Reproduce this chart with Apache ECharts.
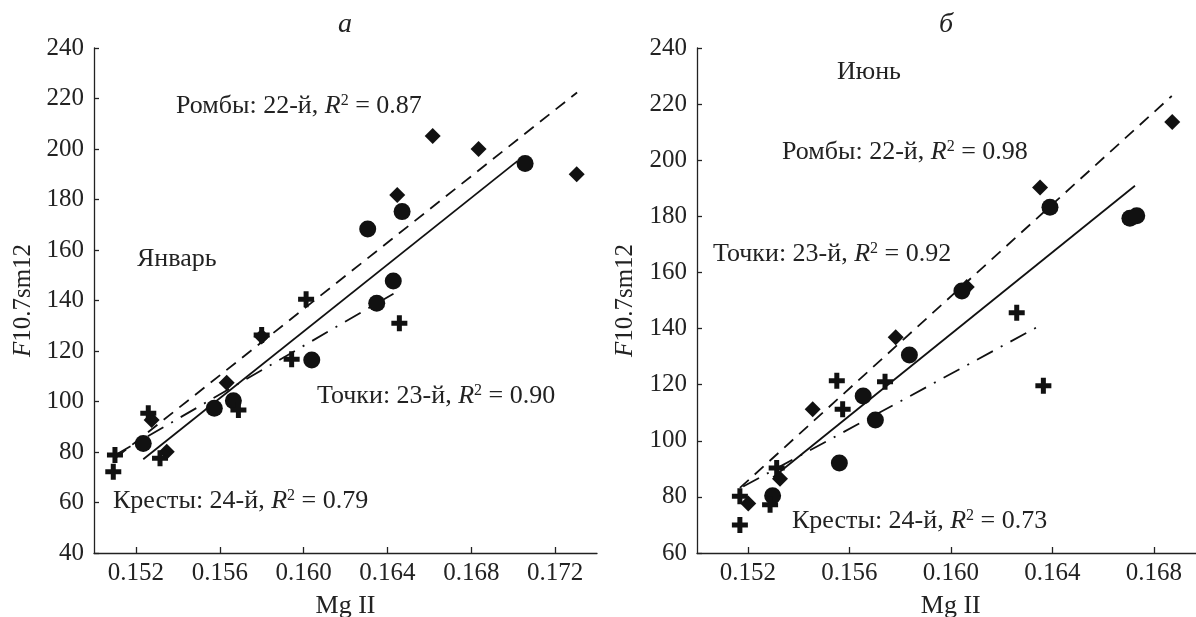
<!DOCTYPE html>
<html>
<head>
<meta charset="utf-8">
<script src="https://cdn.jsdelivr.net/npm/echarts@6/dist/echarts.min.js"></script>
<style>
html,body{margin:0;padding:0;background:#fff;}
#c{width:1196px;height:617px;}
</style>
</head>
<body>
<div id="c"></div>
<script>
// ---- Data ----
// Panel а: January
const janRombs = [[0.16616,205.1],[0.16835,200.0],[0.17303,190.0],[0.16447,181.8],[0.15633,107.4],[0.15800,125.7],[0.15275,92.7],[0.15347,80.1]];
const janPoints = [[0.17057,194.3],[0.16470,175.2],[0.16306,168.3],[0.16428,147.7],[0.16349,138.9],[0.16039,116.4],[0.15665,100.3],[0.15574,97.3],[0.15235,83.4]];
const janCrosses = [[0.16012,140.5],[0.16457,131.0],[0.15800,126.3],[0.15943,116.7],[0.15689,96.6],[0.15259,95.3],[0.15315,77.5],[0.15100,78.8],[0.15092,72.2]];
const janRombFit = [[0.15108,78.0],[0.17305,222.4]];
const janPointFit = [[0.15235,77.1],[0.17020,195.2]];
const janCrossFit = [[0.15100,78.7],[0.16452,143.8]];
// Panel б: June
const junRombs = [[0.16873,213.6],[0.16352,190.3],[0.16063,154.8],[0.15783,136.9],[0.15456,111.2],[0.15327,86.5],[0.15202,77.6]];
const junPoints = [[0.16391,183.2],[0.16706,179.3],[0.16733,180.2],[0.16044,153.4],[0.15837,130.6],[0.15655,116.0],[0.15703,107.4],[0.15561,92.1],[0.15298,80.4]];
const junCrosses = [[0.16260,145.6],[0.16365,119.6],[0.15551,121.4],[0.15741,121.0],[0.15574,111.2],[0.15314,90.3],[0.15169,80.2],[0.15288,77.2],[0.15169,70.0]];
const junRombFit = [[0.15169,83.2],[0.16871,222.9]];
const junPointFit = [[0.15300,87.0],[0.16726,190.9]];
const junCrossFit = [[0.15182,83.7],[0.16340,140.5]];
// Tick labels
const janXTicks = [0.152,0.156,0.160,0.164,0.168,0.172];
const junXTicks = [0.152,0.156,0.160,0.164,0.168];
// Texts
const panelTitles = ['а','б'];
const monthNames = ['Январь','Июнь'];
const janLabels = {romb:['Ромбы: 22-й, ','0.87'], point:['Точки: 23-й, ','0.90'], cross:['Кресты: 24-й, ','0.79']};
const junLabels = {romb:['Ромбы: 22-й, ','0.98'], point:['Точки: 23-й, ','0.92'], cross:['Кресты: 24-й, ','0.73']};

// ---- Chart ----
const FONT = '"Liberation Serif", "DejaVu Serif", serif';
const INK = '#111';
const TXT = '#222';
const CROSS = 'path://M5.5,0H10.5V5.5H16V10.5H10.5V16H5.5V10.5H0V5.5H5.5Z';
const chart = echarts.init(document.getElementById('c'), null, {renderer:'canvas'});

function xAxis(gi, min, max, ticks){
  return {
    type:'value', gridIndex:gi, min:min, max:max,
    name:'Mg II', nameLocation:'middle', nameGap:40,
    nameTextStyle:{fontFamily:FONT, fontSize:26, color:TXT},
    axisLine:{show:true, onZero:false, lineStyle:{color:TXT, width:1.3}},
    axisTick:{show:true, inside:true, length:6, customValues:ticks, lineStyle:{color:TXT, width:1.3}},
    axisLabel:{customValues:ticks, fontFamily:FONT, fontSize:25, color:TXT, margin:8,
      formatter:v=>v.toFixed(3)},
    splitLine:{show:false}
  };
}
function yAxis(gi, min, nameGap){
  return {
    type:'value', gridIndex:gi, min:min, max:240, interval:20,
    name:'{i|F}10.7sm12', nameLocation:'middle', nameGap:nameGap, nameRotate:90,
    nameTextStyle:{fontFamily:FONT, fontSize:25, color:TXT,
      rich:{i:{fontFamily:FONT, fontSize:25, fontStyle:'italic', color:TXT}}},
    axisLine:{show:true, onZero:false, lineStyle:{color:TXT, width:1.3}},
    axisTick:{show:true, inside:true, length:5, lineStyle:{color:TXT, width:1.3}},
    axisLabel:{fontFamily:FONT, fontSize:25, color:TXT, margin:10},
    splitLine:{show:false}
  };
}
function scat(gi, data, sym, size){
  return {type:'scatter', xAxisIndex:gi, yAxisIndex:gi, data:data, symbol:sym, symbolSize:size,
    itemStyle:{color:INK, opacity:1}, z:3, emphasis:{disabled:true}};
}
function fit(gi, data, type){
  return {type:'line', xAxisIndex:gi, yAxisIndex:gi, data:data, symbol:'none', z:2,
    lineStyle:{color:INK, width:1.8, type:type}, emphasis:{disabled:true}};
}
const richStyle = {
  t:{fontFamily:FONT, fontSize:26, color:TXT},
  i:{fontFamily:FONT, fontSize:26, fontStyle:'italic', color:TXT},
  s:{fontFamily:FONT, fontSize:16, color:TXT, verticalAlign:'top', padding:[0,0,11,0]}
};
function label(x, y, parts){
  return {type:'text', left:x, top:y, silent:true,
    style:{text:'{t|'+parts[0]+'}{i|R}{s|2}{t| = '+parts[1]+'}', rich:richStyle, fill:TXT}};
}
function plain(x, y, txt, italic, size){
  return {type:'text', left:x, top:y, silent:true,
    style:{text:txt, fontFamily:FONT, fontSize:size||26, fontStyle:italic?'italic':'normal', fill:TXT}};
}

chart.setOption({
  animation:false,
  backgroundColor:'#fff',
  grid:[
    {left:94, top:48, width:503, height:505, outerBoundsMode:'none', containLabel:false},
    {left:697, top:48, width:507.5, height:505, outerBoundsMode:'none', containLabel:false}
  ],
  xAxis:[xAxis(0,0.150,0.174,janXTicks), xAxis(1,0.150,0.170,junXTicks)],
  yAxis:[yAxis(0,40,58), yAxis(1,60,59)],
  series:[
    fit(0, janRombFit, [12,8]),
    fit(0, janPointFit, 'solid'),
    fit(0, janCrossFit, [18,9,2,9]),
    scat(0, janRombs, 'diamond', 16),
    scat(0, janPoints, 'circle', 17),
    scat(0, janCrosses, CROSS, 16),
    fit(1, junRombFit, [12,8]),
    fit(1, junPointFit, 'solid'),
    fit(1, junCrossFit, [18,9,2,9]),
    scat(1, junRombs, 'diamond', 16),
    scat(1, junPoints, 'circle', 17),
    scat(1, junCrosses, CROSS, 16)
  ],
  graphic:[
    plain(338, 11, panelTitles[0], true, 28),
    plain(939, 11, panelTitles[1], true, 28),
    plain(137, 246, monthNames[0]),
    plain(837, 59, monthNames[1]),
    label(176, 93, janLabels.romb),
    label(317, 383, janLabels.point),
    label(113, 488, janLabels.cross),
    label(782, 139, junLabels.romb),
    label(713, 241, junLabels.point),
    label(792, 508, junLabels.cross)
  ]
});
</script>
</body>
</html>
